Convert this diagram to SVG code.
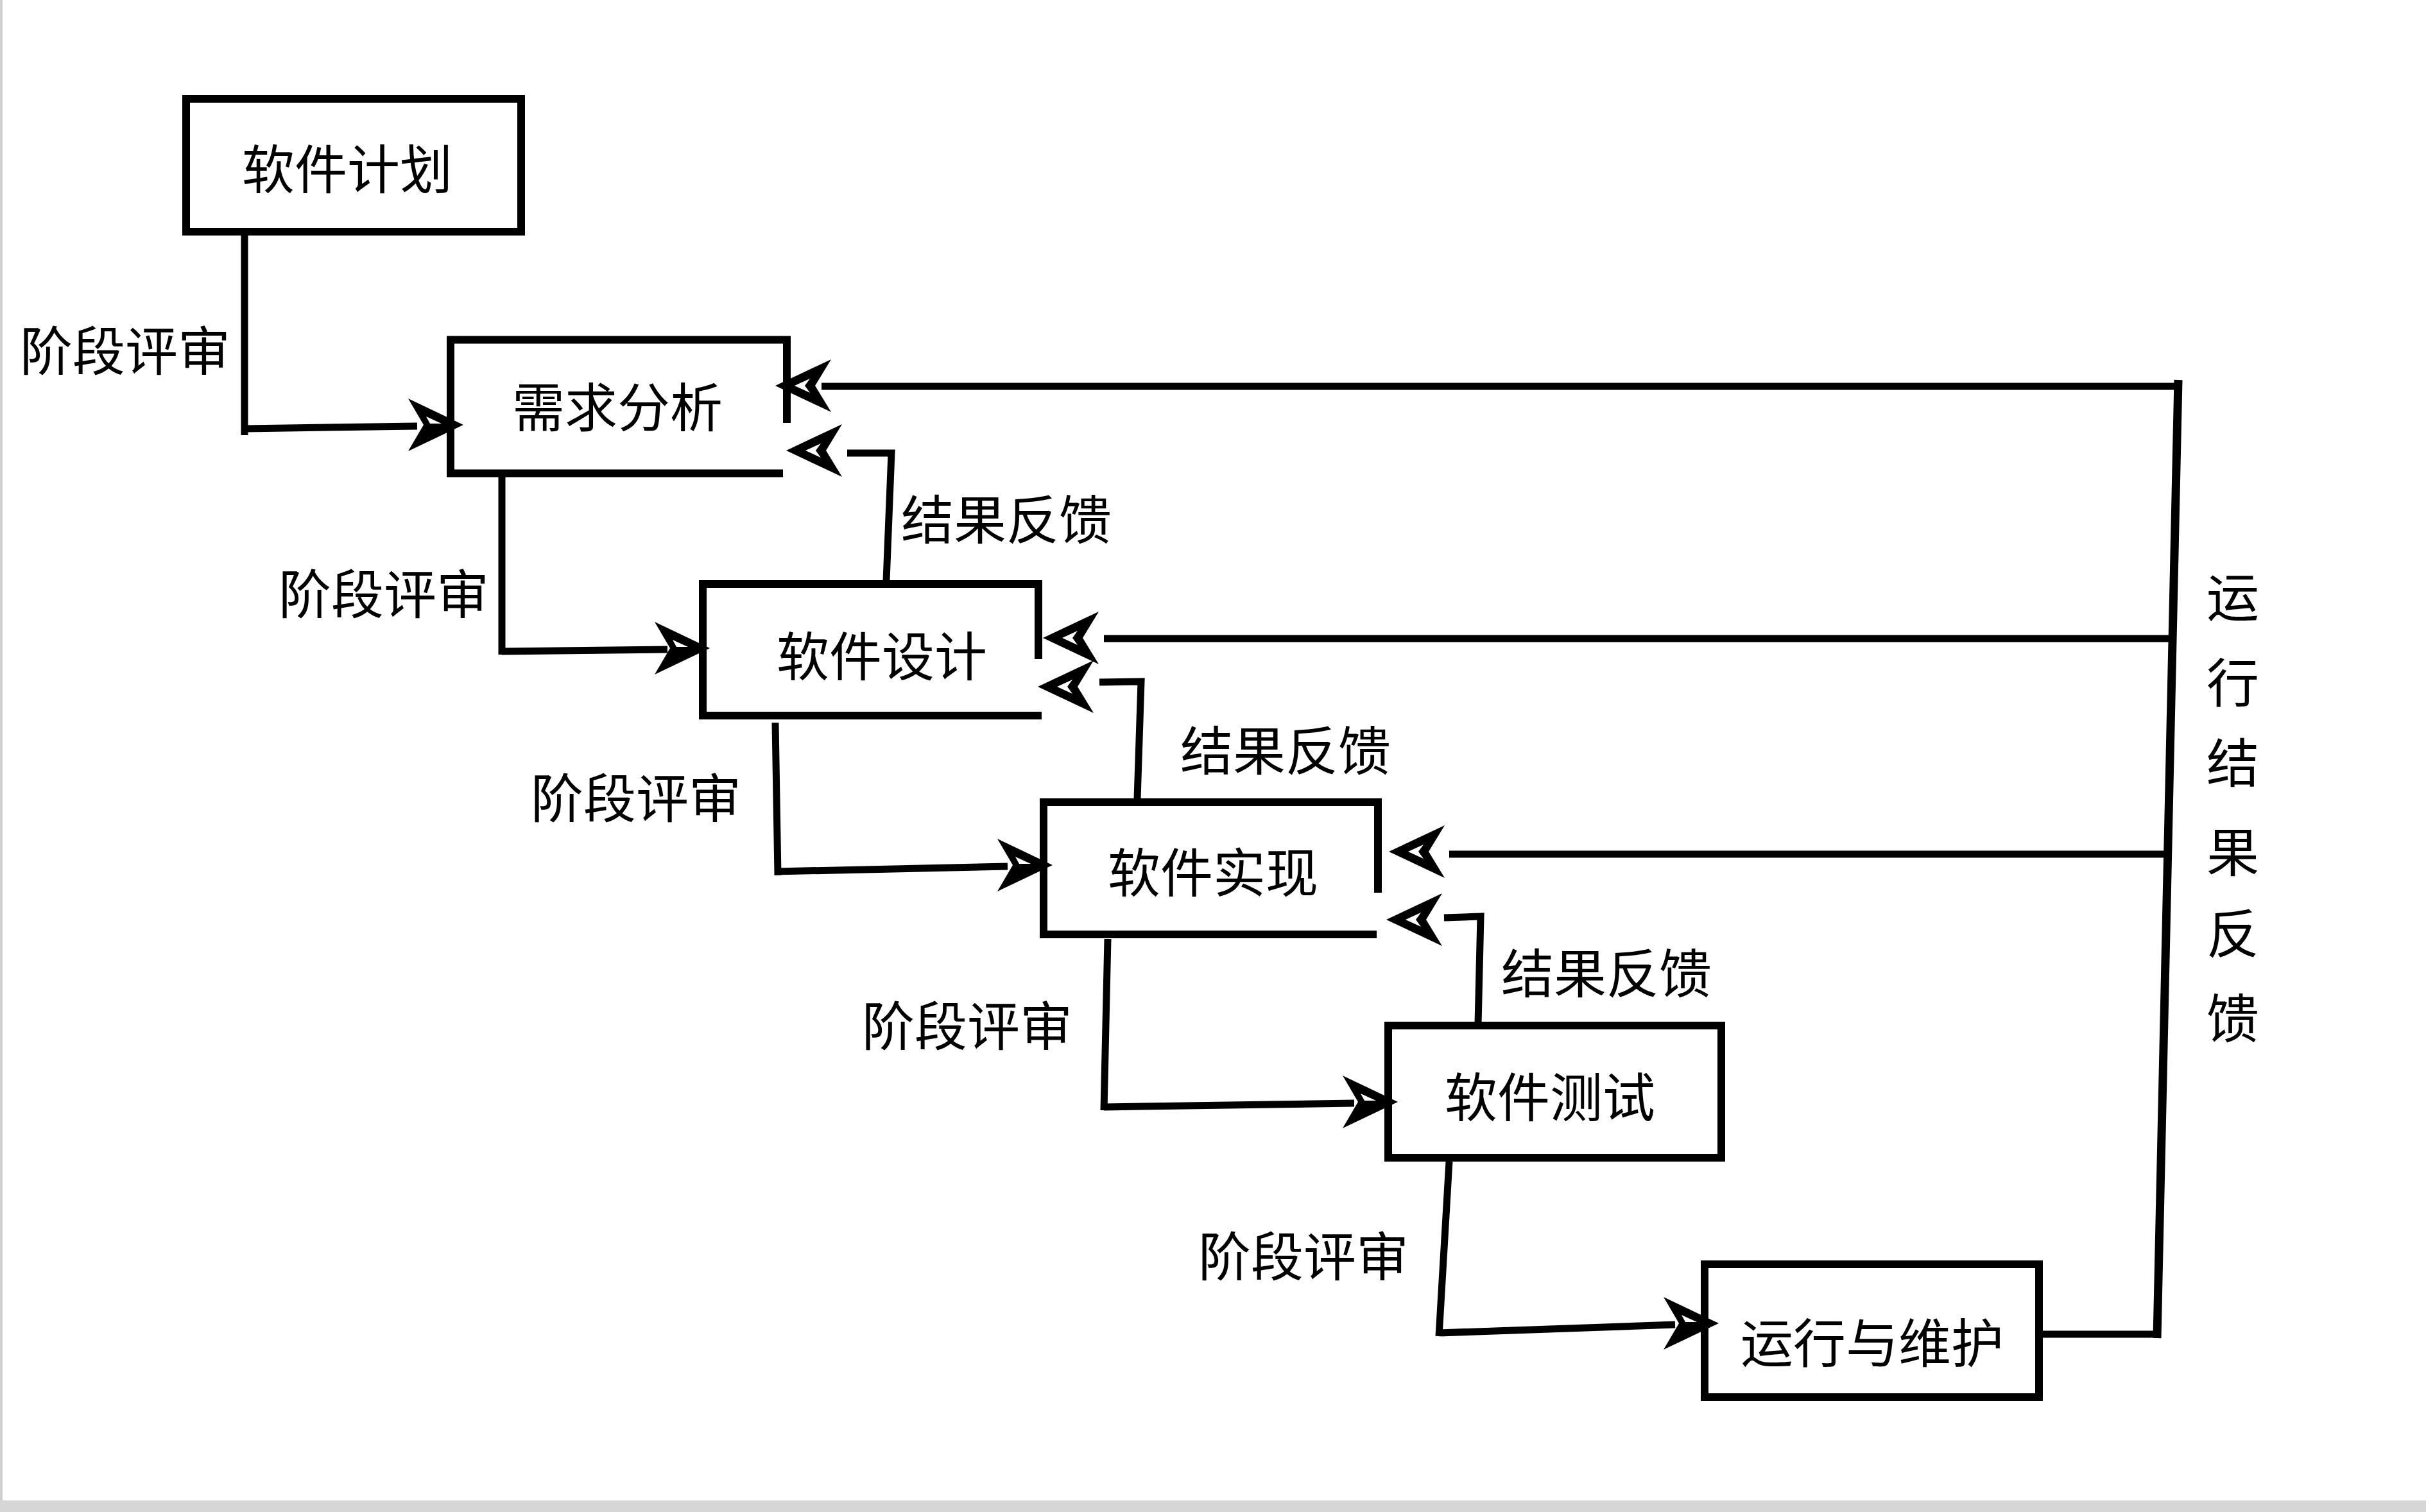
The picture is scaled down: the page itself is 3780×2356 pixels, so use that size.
<svg xmlns="http://www.w3.org/2000/svg" width="3780" height="2356" viewBox="0 0 3780 2356">
<style>
.box{fill:none;stroke:#000;stroke-width:12;stroke-linejoin:miter;stroke-linecap:butt}
.ln{fill:none;stroke:#000;stroke-width:11;stroke-linejoin:miter;stroke-linecap:butt}
.vln{fill:none;stroke:#000;stroke-width:13;stroke-linecap:butt}
.t{font-family:"Noto Sans CJK SC","Noto Sans",sans-serif;font-size:82px;fill:#000;text-anchor:middle;dominant-baseline:central}
</style>
<defs>
<g id="ahF"><path d="M0,0 L-86,-41 L-62,0 L-86,41 Z" fill="#000"/><path d="M-34,-2 L-58,-13 L-52,-2 Z" fill="#fff"/></g>
<g id="ahB"><path d="M0,0 L-87,-41 L-62,0 L-87,41 Z" fill="#000"/><path d="M-30,0 L-54,-11 L-46,0 L-54,11 Z" fill="#fff"/></g>
</defs>
<rect x="0" y="0" width="3780" height="2356" fill="#fff"/>
<rect x="0" y="0" width="4" height="2356" fill="#cfcfcf"/>
<rect x="0" y="2338" width="3780" height="18" fill="#d6d6d6"/>

<g id="node-plan"><rect class="box" x="290" y="154" width="522" height="207"/><text class="t" x="541" y="258">软件计划</text></g>
<g id="node-req"><path class="box" d="M1226,659 V529.5 H702 V737.5 H1220"/><text class="t" x="962" y="629">需求分析</text></g>
<g id="node-design"><path class="box" d="M1618,1027 V910 H1095 V1115 H1623"/><text class="t" x="1374" y="1017">软件设计</text></g>
<g id="node-impl"><path class="box" d="M2147,1391 V1250 H1626 V1456 H2145"/><text class="t" x="1890" y="1354">软件实现</text></g>
<g id="node-test"><rect class="box" x="2163" y="1598" width="519" height="206"/><text class="t" x="2415" y="1704">软件测试</text></g>
<g id="node-ops"><rect class="box" x="2656" y="1970" width="521" height="207"/><text class="t" x="2917" y="2087">运行与维护</text></g>

<g id="connectors">
<path class="ln" d="M381,367 V678 M381,668 L650,664"/>
<use href="#ahF" transform="translate(722,662)"/>
<path class="ln" d="M782,743 V1020 M782,1015 L1040,1012"/>
<use href="#ahF" transform="translate(1106,1010)"/>
<path class="ln" d="M1208,1126 L1212,1364 M1208,1358 L1570,1350"/>
<use href="#ahF" transform="translate(1640,1348)"/>
<path class="ln" d="M1726,1463 L1720,1730 M1720,1725 L2110,1719"/>
<use href="#ahF" transform="translate(2178,1717)"/>
<path class="ln" d="M2258,1810 L2242,2082 M2242,2077 L2610,2064"/>
<use href="#ahF" transform="translate(2678,2062)"/>

<polyline class="ln" points="1381,905 1389,706 1320,706"/>
<use href="#ahB" transform="translate(1225,702) rotate(180)"/>
<polyline class="ln" points="1772,1245 1778,1062 1713,1063"/>
<use href="#ahB" transform="translate(1617,1070) rotate(180)"/>
<polyline class="ln" points="2303,1596 2307,1428 2250,1430"/>
<use href="#ahB" transform="translate(2160,1433) rotate(180)"/>

<path class="ln" d="M3177,2079 H3361"/>
<path class="vln" d="M3361,2085 L3394,592"/>
<path class="ln" d="M3400,602 H1280"/>
<use href="#ahB" transform="translate(1208,601) rotate(180)"/>
<path class="ln" d="M3385,995 H1720"/>
<use href="#ahB" transform="translate(1625,994) rotate(180)"/>
<path class="ln" d="M3378,1331 H2258"/>
<use href="#ahB" transform="translate(2164,1327) rotate(180)"/>
</g>

<g id="labels">
<text class="t" x="195" y="541">阶段评审</text>
<text class="t" x="598" y="920">阶段评审</text>
<text class="t" x="991" y="1238">阶段评审</text>
<text class="t" x="1507" y="1593">阶段评审</text>
<text class="t" x="2031" y="1952">阶段评审</text>
<text class="t" x="1568" y="804">结果反馈</text>
<text class="t" x="2003" y="1164">结果反馈</text>
<text class="t" x="2503" y="1511">结果反馈</text>
<text class="t"><tspan x="3479" y="925">运</tspan><tspan x="3479" y="1058">行</tspan><tspan x="3479" y="1183">结</tspan><tspan x="3479" y="1322">果</tspan><tspan x="3479" y="1449">反</tspan><tspan x="3479" y="1581">馈</tspan></text>
</g>
</svg>
